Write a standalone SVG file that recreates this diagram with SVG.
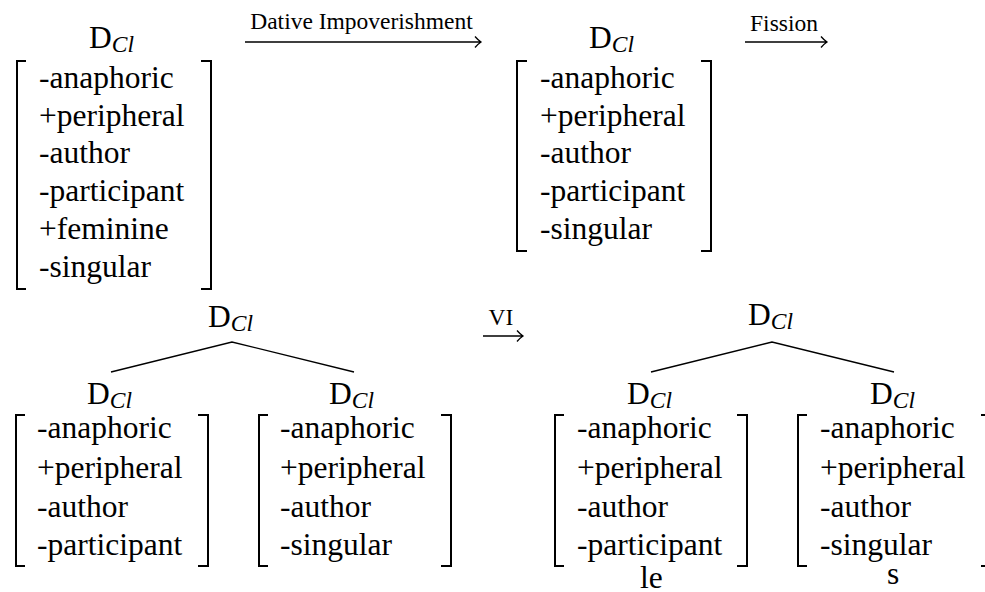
<svg xmlns="http://www.w3.org/2000/svg" width="985" height="592" viewBox="0 0 985 592">
<style>
.t{font-family:"Liberation Serif","Times New Roman",serif;font-size:31.5px;fill:#000}
.s{font-family:"Liberation Serif","Times New Roman",serif;font-size:23.5px;font-style:italic;fill:#000}
.lb{font-family:"Liberation Serif","Times New Roman",serif;font-size:23.5px;fill:#000}
.br{fill:none;stroke:#000;stroke-width:2}
.ln{fill:none;stroke:#000;stroke-width:1.3}
</style>
<rect width="985" height="592" fill="#fff"/>
<g id="fs1">
<text class="t" x="89" y="48">D<tspan class="s" dy="4">Cl</tspan></text>
<path class="br" d="M26 61H17V289H26M201 61H211V289H201"/>
<text class="t" x="39" y="88">-anaphoric</text>
<text class="t" x="39" y="126">+peripheral</text>
<text class="t" x="39" y="163">-author</text>
<text class="t" x="39" y="201">-participant</text>
<text class="t" x="39" y="239">+feminine</text>
<text class="t" x="39" y="277">-singular</text>
</g>
<g id="fs2">
<text class="t" x="589" y="48">D<tspan class="s" dy="4">Cl</tspan></text>
<path class="br" d="M527 61H517V251H527M701 61H711V251H701"/>
<text class="t" x="540" y="88">-anaphoric</text>
<text class="t" x="540" y="126">+peripheral</text>
<text class="t" x="540" y="163">-author</text>
<text class="t" x="540" y="201">-participant</text>
<text class="t" x="540" y="239">-singular</text>
</g>
<g id="tree1">
<text class="t" x="208" y="327">D<tspan class="s" dy="4">Cl</tspan></text>
</g>
<g id="t1l">
<text class="t" x="87" y="404">D<tspan class="s" dy="4">Cl</tspan></text>
<path class="br" d="M25 415H16V566H25M198 415H208V566H198"/>
<text class="t" x="37" y="438">-anaphoric</text>
<text class="t" x="37" y="478">+peripheral</text>
<text class="t" x="37" y="517">-author</text>
<text class="t" x="37" y="555">-participant</text>
</g>
<g id="t1r">
<text class="t" x="329" y="404">D<tspan class="s" dy="4">Cl</tspan></text>
<path class="br" d="M268 415H259V566H268M441 415H451V566H441"/>
<text class="t" x="280" y="438">-anaphoric</text>
<text class="t" x="280" y="478">+peripheral</text>
<text class="t" x="280" y="517">-author</text>
<text class="t" x="280" y="555">-singular</text>
</g>
<g id="tree2">
<text class="t" x="748" y="325">D<tspan class="s" dy="4">Cl</tspan></text>
</g>
<g id="t2l">
<text class="t" x="627" y="404">D<tspan class="s" dy="4">Cl</tspan></text>
<path class="br" d="M564 415H555V566H564M737 415H747V566H737"/>
<text class="t" x="577" y="438">-anaphoric</text>
<text class="t" x="577" y="478">+peripheral</text>
<text class="t" x="577" y="517">-author</text>
<text class="t" x="577" y="555">-participant</text>
<text class="t" x="640" y="588">le</text>
</g>
<g id="t2r">
<text class="t" x="870" y="404">D<tspan class="s" dy="4">Cl</tspan></text>
<path class="br" d="M807 415H798V566H807M981 415H991V566H981"/>
<text class="t" x="820" y="438">-anaphoric</text>
<text class="t" x="820" y="478">+peripheral</text>
<text class="t" x="820" y="517">-author</text>
<text class="t" x="820" y="555">-singular</text>
<text class="t" x="887" y="584">s</text>
</g>
<g id="connectors">
<path class="ln" d="M245 42H481M475 36.5Q478 40 481 42Q478 44 475 47.5"/>
<text class="lb" x="361.5" y="29" text-anchor="middle">Dative Impoverishment</text>
<path class="ln" d="M745 42H827M821 36.5Q824 40 827 42Q824 44 821 47.5"/>
<text class="lb" x="784" y="31" text-anchor="middle">Fission</text>
<path class="ln" d="M483 336H523M517 330.5Q520 334 523 336Q520 338 517 341.5"/>
<text class="lb" x="501" y="325" text-anchor="middle">VI</text>
<path class="ln" d="M111 372L232 342L354 372"/>
<path class="ln" d="M651 372L772 342L894 372"/>
</g>
</svg>
